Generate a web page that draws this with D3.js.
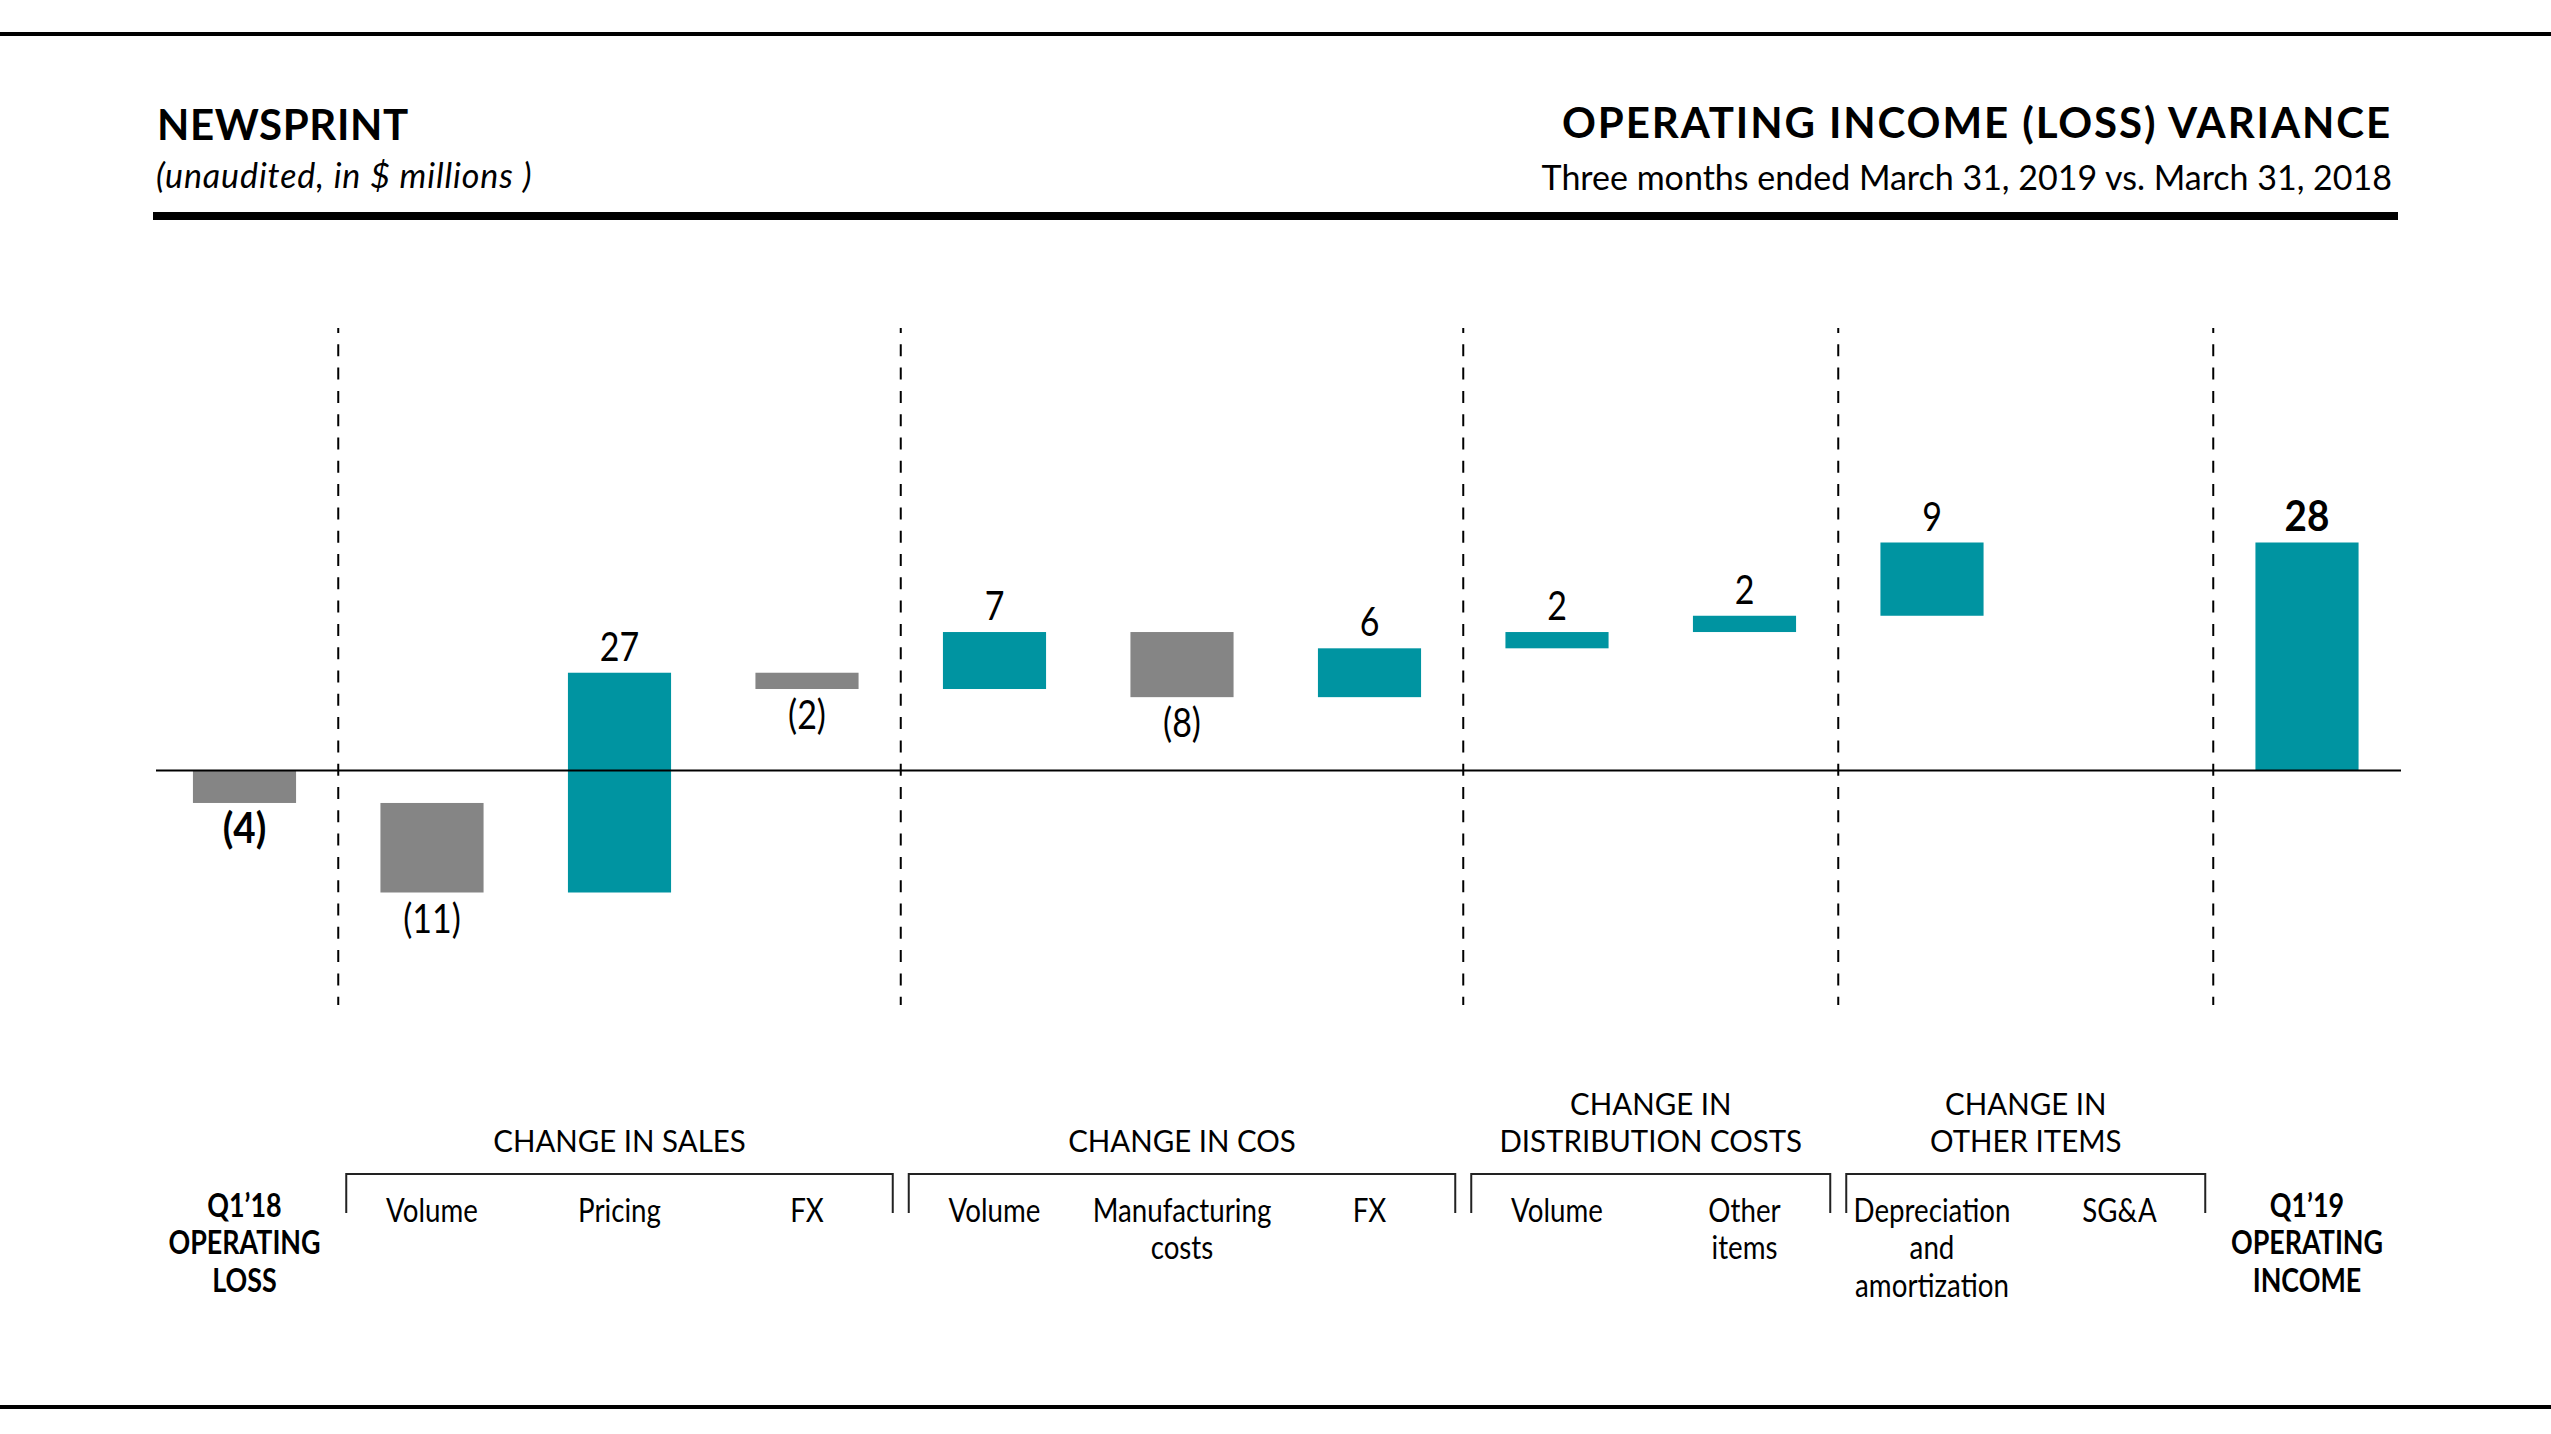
<!DOCTYPE html>
<html>
<head>
<meta charset="utf-8">
<script src="https://cdn.jsdelivr.net/npm/d3@7"></script>
<style>
  html, body { margin: 0; padding: 0; background: #fff; }
  svg { display: block; }
</style>
</head>
<body>
<script>
// ---------- DATA ----------
const categories = [
  "Q1'18 Operating loss", "Sales volume", "Sales pricing", "Sales FX",
  "COS volume", "COS manufacturing costs", "COS FX",
  "Distribution volume", "Distribution other items",
  "Depreciation and amortization", "SG&A", "Q1'19 Operating income"
];
const values = [-4, -11, 27, -2, 7, -8, 6, 2, 2, 9, 0, 28];
const isTotal = [true, false, false, false, false, false, false, false, false, false, false, true];
const tickLabels = [
  ["Q1’18", "OPERATING", "LOSS"], ["Volume"], ["Pricing"], ["FX"],
  ["Volume"], ["Manufacturing", "costs"], ["FX"],
  ["Volume"], ["Other", "items"],
  ["Depreciation", "and", "amortization"], ["SG&A"], ["Q1’19", "OPERATING", "INCOME"]
];
const groupLabels = [["CHANGE IN SALES"], ["CHANGE IN COS"], ["CHANGE IN", "DISTRIBUTION COSTS"], ["CHANGE IN", "OTHER ITEMS"]];
const groupFirst = [1, 4, 7, 9];
const groupLast = [3, 6, 8, 10];
const leftTitle = "NEWSPRINT";
const leftSubtitle = "(unaudited, in $ millions )";
const rightTitle = "OPERATING INCOME (LOSS) VARIANCE";
const rightSubtitle = "Three months ended March 31, 2019 vs. March 31, 2018";

// ---------- LAYOUT ----------
const W = 2551, H = 1434;
const TEAL = "#0094a1", GREY = "#858585";
const FONT = "Lato, 'Open Sans', sans-serif";

const svg = d3.select("body").append("svg").attr("width", W).attr("height", H);

// waterfall spans
let run = 0;
const bars = values.map((v, i) => {
  let y0, y1;
  if (isTotal[i]) { y0 = 0; y1 = v; run = v; }
  else { y0 = run; y1 = run + v; run = y1; }
  return { cat: categories[i], v, y0, y1, total: isTotal[i], i };
});

const x = d3.scaleBand().domain(categories).range([150.75, 2400.75]).paddingInner(0.45).paddingOuter(0.225);
const y = d3.scaleLinear().domain([-15, 28]).range([892.5, 542.5]);
const cx = i => x(categories[i]) + x.bandwidth() / 2;

// frame lines
svg.append("rect").attr("x", 0).attr("y", 32).attr("width", W).attr("height", 4).attr("fill", "#000");
svg.append("rect").attr("x", 0).attr("y", 1405).attr("width", W).attr("height", 4).attr("fill", "#000");
svg.append("rect").attr("x", 153).attr("y", 212).attr("width", 2398 - 153).attr("height", 8).attr("fill", "#000");

// titles
svg.append("text").attr("x", 157).attr("y", 140).text(leftTitle)
  .attr("font-family", FONT).attr("font-weight", 700).attr("font-size", 42).attr("letter-spacing", 0.6);
svg.append("text").attr("x", 156).attr("y", 188).text(leftSubtitle)
  .attr("font-family", FONT).attr("font-style", "italic").attr("font-size", 34).attr("letter-spacing", 0.9);
svg.append("text").attr("x", 2392).attr("y", 138).attr("text-anchor", "end").text(rightTitle)
  .attr("font-family", FONT).attr("font-weight", 700).attr("font-size", 42).attr("letter-spacing", 1.9);
svg.append("text").attr("x", 2392).attr("y", 190).attr("text-anchor", "end").text(rightSubtitle)
  .attr("font-family", FONT).attr("font-size", 34);

// group separators (dashed)
const seps = groupFirst.concat([categories.length - 1]).map(i => (cx(i - 1) + cx(i)) / 2);
svg.append("g").selectAll("line").data(seps).join("line")
  .attr("x1", d => d).attr("x2", d => d).attr("y1", 328).attr("y2", 1005)
  .attr("stroke", "#000").attr("stroke-width", 2)
  .attr("stroke-dasharray", "12,11.3").attr("stroke-dashoffset", 7);

// bars
svg.append("g").selectAll("rect").data(bars.filter(b => b.v !== 0)).join("rect")
  .attr("x", d => x(d.cat)).attr("width", x.bandwidth())
  .attr("y", d => y(Math.max(d.y0, d.y1)))
  .attr("height", d => Math.abs(y(d.y0) - y(d.y1)))
  .attr("fill", d => d.v > 0 ? TEAL : GREY);

// zero line
svg.append("line").attr("x1", 156).attr("x2", 2401).attr("y1", y(0)).attr("y2", y(0))
  .attr("stroke", "#000").attr("stroke-width", 2);

// value labels (horizontally condensed)
const fmt = v => v < 0 ? "(" + Math.abs(v) + ")" : String(v);
svg.append("g").selectAll("g").data(bars.filter(b => b.v !== 0)).join("g")
  .attr("transform", d => `translate(${cx(d.i)},${d.v > 0 ? y(Math.max(d.y0, d.y1)) - 12 : y(Math.min(d.y0, d.y1)) + 40}) scale(${d.total ? 0.92 : 0.85},1)`)
  .append("text")
  .attr("text-anchor", "middle")
  .attr("font-family", FONT)
  .attr("font-size", d => d.total ? 42 : 40)
  .attr("font-weight", d => d.total ? 700 : 400)
  .text(d => fmt(d.v));

// category labels
const catG = svg.append("g");
tickLabels.forEach((lines, i) => {
  const total = isTotal[i];
  const g = catG.append("g").attr("transform", `translate(${cx(i)},0) scale(${total ? 0.84 : 0.84},1)`);
  const t = g.append("text").attr("text-anchor", "middle").attr("font-family", FONT)
    .attr("font-weight", total ? 700 : 400).attr("font-size", total ? 32 : 33);
  const base = total ? 1217 : 1222, step = total ? 37.5 : 37.5;
  lines.forEach((l, k) => t.append("tspan").attr("x", 0).attr("y", base + k * step).text(l));
});

// group brackets and labels
const gG = svg.append("g");
groupLabels.forEach((lines, g) => {
  const left = (cx(groupFirst[g] - 1) + cx(groupFirst[g])) / 2 + 8;
  const right = (cx(groupLast[g]) + cx(groupLast[g] + 1)) / 2 - 8;
  gG.append("path")
    .attr("d", `M${left},1213V1174H${right}V1213`)
    .attr("fill", "none").attr("stroke", "#222").attr("stroke-width", 2);
  const mid = (cx(groupFirst[g]) + cx(groupLast[g])) / 2;
  const tg = gG.append("g").attr("transform", `translate(${mid},0) scale(0.95,1)`);
  const t = tg.append("text").attr("text-anchor", "middle")
    .attr("font-family", FONT).attr("font-size", 31);
  const base = 1152 - (lines.length - 1) * 37;
  lines.forEach((l, k) => t.append("tspan").attr("x", 0).attr("y", base + k * 37).text(l));
});
</script>
</body>
</html>
